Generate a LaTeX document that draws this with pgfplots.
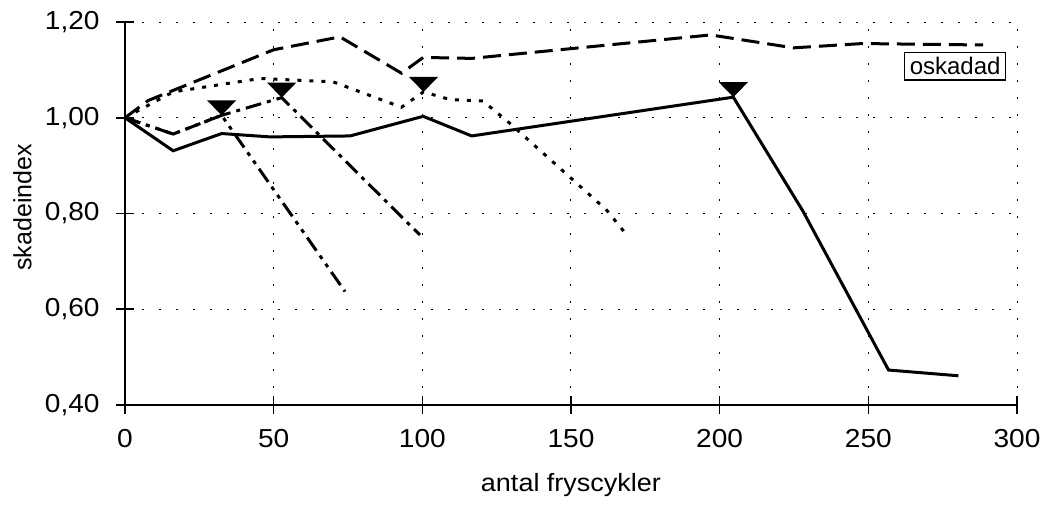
\documentclass[border=0pt]{standalone}
\usepackage{fontspec}
\setmainfont{Liberation Sans}[FakeStretch=1.08]
\newfontfamily\plainfont{Liberation Sans}
\usepackage{pgfplots}
\pgfplotsset{compat=1.18}

% downward triangle with its tip at the data point
\pgfdeclareplotmark{tridown}{%
  \pgfpathmoveto{\pgfqpoint{0pt}{0pt}}%
  \pgfpathlineto{\pgfqpoint{-7.3pt}{7.5pt}}%
  \pgfpathlineto{\pgfqpoint{7.3pt}{7.5pt}}%
  \pgfpathclose
  \pgfusepathqfill}

\begin{document}
\begin{tikzpicture}
\begin{axis}[
  at={(0,0)}, anchor=south west,
  width=446pt, height=191.5pt, scale only axis,
  xmin=0, xmax=300, ymin=0.4, ymax=1.2,
  xtick={0,50,...,300},
  ytick={0.4,0.6,0.8,1.0,1.2},
  axis x line*=bottom, axis y line*=left,
  axis line style={line width=1.4pt},
  tick align=center, major tick length=9pt,
  tick style={black, line width=0.8pt},
  grid=major,
  major grid style={black, line width=0.5pt, dash pattern=on 0.8pt off 7.7pt},
  tick label style={font=\fontsize{13}{15}\selectfont},
  /pgf/number format/assume math mode=true,
  y tick label style={/pgf/number format/fixed, /pgf/number format/fixed zerofill,
    /pgf/number format/precision=2, /pgf/number format/use comma},
  xticklabel style={inner sep=0pt, anchor=north, yshift=-7.5pt},
  yticklabel style={inner sep=0pt, anchor=east, xshift=-8pt},
  xlabel={antal fryscykler},
  ylabel={\plainfont skadeindex},
  xlabel style={at={(axis description cs:0.5,-0.21)}, anchor=center, font=\fontsize{12.5}{15}\selectfont},
  ylabel style={at={(axis description cs:-0.115,0.516)}, anchor=center, font=\fontsize{12.5}{15}\selectfont},
  clip=false,
]

% intact reference (oskadad)
\addplot[black, line width=1.5pt, dash pattern=on 9pt off 4pt] coordinates {
(0,1.000) (7.8,1.036) (50,1.142) (72.3,1.169) (93,1.093) (100.3,1.126)
(116.6,1.124) (197,1.173) (224.8,1.146) (248,1.155) (288.6,1.152)
};

% failed after about 205 cycles
\addplot[black, line width=1.5pt] coordinates {
(0,1.000) (16.2,0.931) (32.5,0.967) (48.8,0.960) (75.7,0.962) (100.3,1.003)
(116.6,0.962) (204.6,1.043) (228,0.805) (256.8,0.473) (280.3,0.461)
};

% failed after about 100 cycles
\addplot[black, line width=1.5pt, dash pattern=on 2pt off 4pt] coordinates {
(0,1.000) (16.2,1.054) (45.4,1.082) (70,1.075) (93,1.022) (100.4,1.054)
(109.3,1.038) (120.4,1.035) (129.5,0.988) (162,0.807) (168,0.761)
};

% failed after about 52 cycles
\addplot[black, line width=1.5pt, dash pattern=on 8pt off 3pt on 2pt off 3pt] coordinates {
(0,1.000) (16.2,0.966) (32.5,1.005) (52.7,1.042) (99.2,0.755)
};

% failed after about 33 cycles
\addplot[black, line width=1.5pt, dash pattern=on 8pt off 3pt on 2pt off 3pt on 2pt off 3pt] coordinates {
(0,1.000) (16.2,0.966) (32.5,1.005) (74,0.637)
};

% failure markers
\addplot[only marks, mark=tridown, black] coordinates {
(32.5,1.005) (52.7,1.042) (100.4,1.054) (204.6,1.043)
};

\node[draw, line width=0.7pt, inner sep=2.5pt, fill=white,
  font=\plainfont\fontsize{12}{13}\selectfont]
  at (axis cs:279.2,1.108) {oskadad};

\end{axis}
\pgfresetboundingbox
\path[use as bounding box] (-62.5pt,-50.5pt) rectangle (460pt,202.5pt);
\end{tikzpicture}
\end{document}
